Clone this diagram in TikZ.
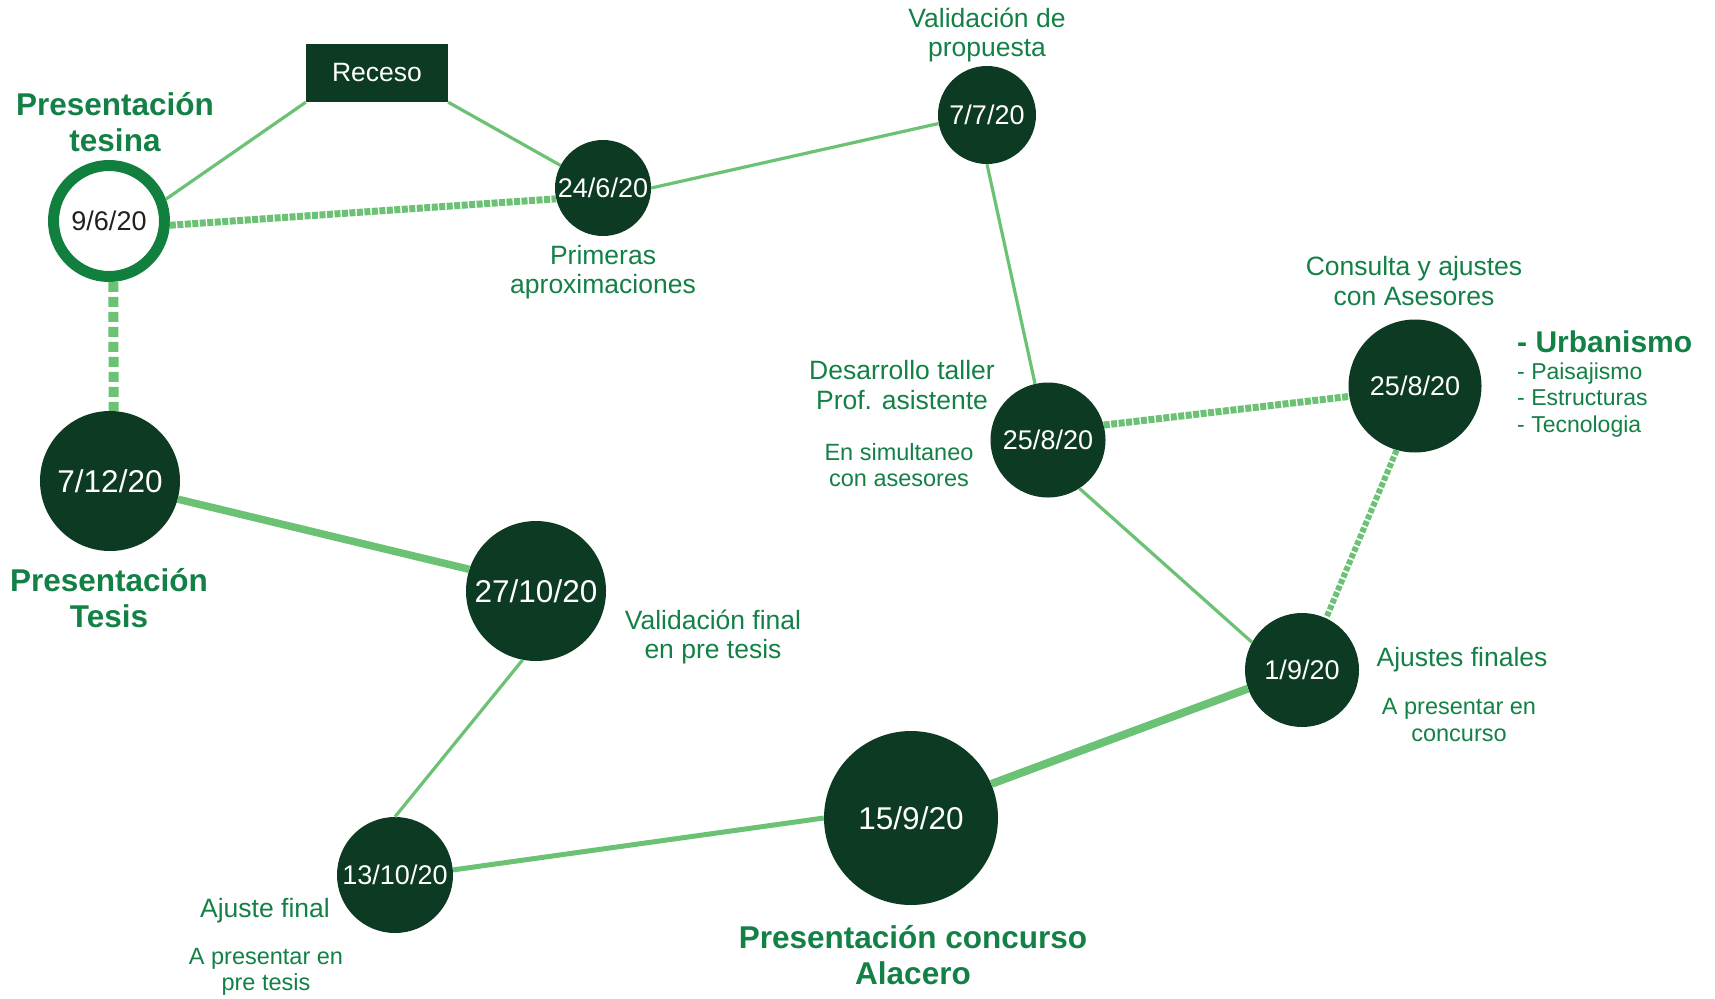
\documentclass[tikz,border=0pt]{standalone}
\usepackage{fontspec}
\setmainfont{Liberation Sans}
\definecolor{dkg}{HTML}{0C3A22}
\definecolor{txg}{HTML}{138146}
\definecolor{lng}{HTML}{6CC274}
\definecolor{ringg}{HTML}{11803F}
\definecolor{dtxt}{HTML}{231F20}
\begin{document}
\begin{tikzpicture}[x=1pt,y=-1pt,
  dnode/.style={circle,fill=dkg,text=white,inner sep=0pt,minimum size=#1,font=\fontsize{27}{30}\selectfont},
  bignode/.style={circle,fill=dkg,text=white,inner sep=0pt,minimum size=#1,font=\fontsize{31.5}{34}\selectfont},
  lbl/.style={text=txg,align=center,inner sep=0pt,font=\fontsize{26.5}{29.5}\selectfont},
  slbl/.style={text=txg,align=center,inner sep=0pt,font=\fontsize{23.5}{26.5}\selectfont},
  blbl/.style={text=txg,align=center,inner sep=0pt,font=\fontsize{31.5}{35.5}\selectfont\bfseries},
  thinln/.style={draw=lng,line width=3.2pt},
  medln/.style={draw=lng,line width=5pt},
  thickln/.style={draw=lng,line width=7.5pt},
  dashln/.style={draw=lng,line width=#1,dash pattern=on 6pt off 1.5pt},
  bigdash/.style={draw=lng,line width=10pt,dash pattern=on 10pt off 5pt},
]
\fill[white] (0,0) rectangle (1715,998);
\useasboundingbox (0,0) rectangle (1715,998);

% nodes
\node[circle,draw=ringg,line width=11pt,fill=white,text=dtxt,inner sep=0pt,minimum size=111pt,
      font=\fontsize{27}{30}\selectfont] (n96) at (109,221) {9/6/20};
\node[rectangle,fill=dkg,text=white,minimum width=142pt,minimum height=58pt,inner sep=0pt,
      font=\fontsize{26.5}{29}\selectfont] (rec) at (377,73) {\raisebox{-2.5pt}{Receso}};
\node[dnode=96pt]  (n246)  at (603,188) {24/6/20};
\node[dnode=98pt]  (n77)   at (987,115) {7/7/20};
\node[bignode=140pt] (n712) at (110,481) {7/12/20};
\node[bignode=140pt] (n2710) at (536,591) {27/10/20};
\node[dnode=115pt] (n258a) at (1048,440) {25/8/20};
\node[dnode=133pt] (n258b) at (1415,386) {25/8/20};
\node[dnode=114pt] (n19)   at (1302,670) {1/9/20};
\node[bignode=174pt] (n159) at (911,818) {15/9/20};
\node[dnode=116pt] (n1310) at (395,875) {13/10/20};

% connectors
\draw[thinln] (n96.21) -- (rec.south west);
\draw[thinln] (rec.south east) -- (n246.152);
\draw[dashln=7pt] (n96.-4) -- (n246.193);
\draw[thinln] (n246.0) -- (n77.190);
\draw[thinln] (n77.270) -- (n258a.103);
\draw[dashln=7pt] (n258a.15) -- (n258b.189);
\draw[thinln] (n258a.-57) -- (n19.151);
\draw[dashln=6pt,dash pattern=on 5pt off 2pt] (n258b.254) -- (n19.65);
\draw[thickln,line width=8pt] (n19.199) -- (n159.23);
\draw[medln] (n159.180) -- (n1310.5);
\draw[thinln] (n1310.90) -- (n2710.259);
\draw[thickln] (n2710.162) -- (n712.-15);
\draw[bigdash] (n96.274) -- (n712.87.5);

% labels
\node[blbl] (tPT) at (115,122) {Presentación\\tesina};
\node[lbl] (tVP) at (987,35) {Validación de\\propuesta};
\node[lbl] (tPA) at (603,272) {Primeras\\aproximaciones};
\node[lbl] (tDT) at (902,385) {Desarrollo taller\\Prof. asistente};
\node[slbl] (tES) at (899,465) {En simultaneo\\con asesores};
\node[lbl] (tCA) at (1414,281) {Consulta y ajustes\\con Asesores};
\node[text=txg,align=left,inner sep=0pt,anchor=north west,font=\fontsize{23}{26.5}\selectfont] (tUR) at (1517,331)
  {{\fontsize{30}{32}\selectfont\bfseries - Urbanismo}\\
   - Paisajismo\\
   - Estructuras\\
   - Tecnologia};
\node[blbl] (tPTe) at (109,598) {Presentación\\Tesis};
\node[lbl] (tVF) at (713,637) {Validación final\\en pre tesis};
\node[lbl] (tAF) at (1462,660) {Ajustes finales};
\node[slbl] (tAC) at (1459,720) {A presentar en\\concurso};
\node[lbl] (tAj) at (265,911) {Ajuste final};
\node[slbl] (tAP) at (266,972) {A presentar en\\pre tesis};
\node[blbl] (tPC) at (913,955) {Presentación concurso\\Alacero};
\end{tikzpicture}
\end{document}
